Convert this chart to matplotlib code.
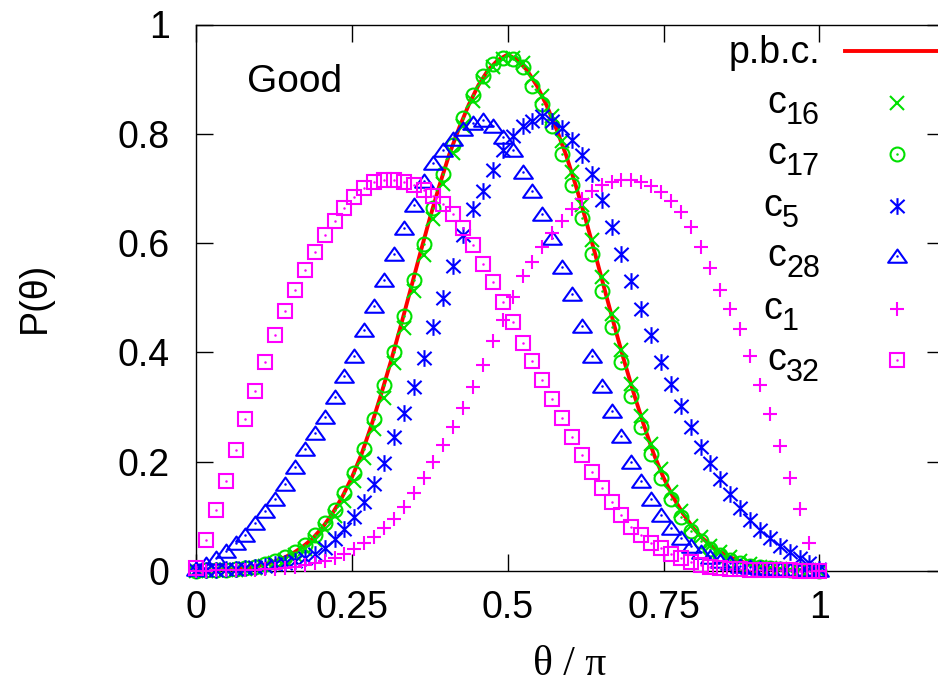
import matplotlib
matplotlib.use("Agg")
import matplotlib.pyplot as plt
import numpy as np
from matplotlib.lines import Line2D
from matplotlib.path import Path

plt.rcParams["font.family"] = ["Liberation Sans", "DejaVu Sans"]

# theta/pi grid of the lattice data (64 points) and of the p.b.c. curve (65 points)
theta = np.arange(64) / 63
theta_pbc = np.arange(65) / 64

p_pbc = [0.000, 0.001, 0.001, 0.002, 0.003, 0.005, 0.008, 0.012, 0.017, 0.024,
         0.033, 0.045, 0.060, 0.080, 0.105, 0.135, 0.171, 0.214, 0.266, 0.323,
         0.383, 0.447, 0.513, 0.580, 0.645, 0.706, 0.762, 0.810, 0.853, 0.889,
         0.917, 0.935, 0.945, 0.935, 0.916, 0.888, 0.852, 0.809, 0.761, 0.705,
         0.644, 0.579, 0.512, 0.446, 0.382, 0.322, 0.266, 0.214, 0.171, 0.135,
         0.105, 0.080, 0.060, 0.045, 0.033, 0.024, 0.017, 0.012, 0.008, 0.005,
         0.003, 0.002, 0.001, 0.001, 0.000]

p_c16 = [0.000, 0.000, 0.001, 0.001, 0.002, 0.004, 0.006, 0.010, 0.015, 0.021,
         0.030, 0.041, 0.057, 0.077, 0.100, 0.129, 0.164, 0.207, 0.259, 0.317,
         0.380, 0.445, 0.512, 0.578, 0.645, 0.708, 0.765, 0.815, 0.860, 0.896,
         0.922, 0.937, 0.939, 0.930, 0.902, 0.870, 0.833, 0.786, 0.730, 0.670,
         0.605, 0.538, 0.470, 0.405, 0.342, 0.284, 0.232, 0.186, 0.145, 0.110,
         0.083, 0.062, 0.046, 0.034, 0.025, 0.018, 0.012, 0.008, 0.006, 0.004,
         0.002, 0.001, 0.001, 0.000]

p_c17 = [0.000, 0.001, 0.001, 0.002, 0.003, 0.005, 0.008, 0.012, 0.018, 0.025,
         0.035, 0.048, 0.066, 0.087, 0.112, 0.142, 0.179, 0.224, 0.278, 0.340,
         0.400, 0.467, 0.532, 0.598, 0.665, 0.727, 0.780, 0.829, 0.871, 0.905,
         0.928, 0.938, 0.936, 0.922, 0.887, 0.854, 0.814, 0.763, 0.706, 0.646,
         0.580, 0.512, 0.446, 0.382, 0.320, 0.264, 0.214, 0.171, 0.131, 0.098,
         0.074, 0.055, 0.040, 0.029, 0.021, 0.015, 0.010, 0.007, 0.005, 0.003,
         0.002, 0.001, 0.001, 0.000]

p_c5 = [0.001, 0.002, 0.002, 0.003, 0.004, 0.005, 0.007, 0.009, 0.012, 0.015,
        0.019, 0.024, 0.031, 0.043, 0.058, 0.076, 0.098, 0.127, 0.160, 0.198,
        0.245, 0.289, 0.337, 0.390, 0.447, 0.500, 0.559, 0.615, 0.663, 0.696,
        0.733, 0.770, 0.796, 0.814, 0.824, 0.833, 0.823, 0.810, 0.789, 0.762,
        0.726, 0.678, 0.630, 0.580, 0.530, 0.480, 0.432, 0.383, 0.342, 0.302,
        0.264, 0.227, 0.197, 0.168, 0.141, 0.115, 0.093, 0.075, 0.060, 0.046,
        0.034, 0.023, 0.014, 0.004]

p_c28 = [0.004, 0.012, 0.023, 0.037, 0.051, 0.066, 0.087, 0.109, 0.131, 0.160,
         0.191, 0.223, 0.252, 0.282, 0.318, 0.356, 0.394, 0.441, 0.485, 0.533,
         0.580, 0.627, 0.670, 0.714, 0.747, 0.770, 0.790, 0.808, 0.819, 0.825,
         0.814, 0.795, 0.770, 0.731, 0.696, 0.654, 0.609, 0.556, 0.506, 0.448,
         0.393, 0.339, 0.293, 0.247, 0.200, 0.164, 0.131, 0.102, 0.078, 0.060,
         0.045, 0.034, 0.026, 0.019, 0.014, 0.010, 0.007, 0.005, 0.004, 0.003,
         0.002, 0.001, 0.001, 0.001]

p_c1 = [0.000, 0.000, 0.001, 0.001, 0.001, 0.002, 0.002, 0.003, 0.004, 0.005,
        0.008, 0.011, 0.015, 0.019, 0.024, 0.031, 0.040, 0.051, 0.063, 0.079,
        0.096, 0.118, 0.142, 0.170, 0.200, 0.231, 0.264, 0.298, 0.336, 0.377,
        0.420, 0.460, 0.502, 0.539, 0.566, 0.593, 0.618, 0.641, 0.662, 0.681,
        0.695, 0.706, 0.712, 0.715, 0.715, 0.711, 0.704, 0.694, 0.677, 0.656,
        0.630, 0.593, 0.554, 0.515, 0.480, 0.442, 0.393, 0.340, 0.287, 0.229,
        0.171, 0.113, 0.052, 0.000]

p_c32 = [0.006, 0.057, 0.112, 0.165, 0.221, 0.278, 0.330, 0.383, 0.431, 0.475,
         0.514, 0.551, 0.584, 0.614, 0.641, 0.665, 0.685, 0.700, 0.711, 0.715,
         0.715, 0.712, 0.706, 0.697, 0.686, 0.672, 0.654, 0.628, 0.597, 0.562,
         0.528, 0.493, 0.456, 0.418, 0.384, 0.350, 0.314, 0.280, 0.246, 0.212,
         0.181, 0.152, 0.127, 0.102, 0.081, 0.066, 0.052, 0.042, 0.032, 0.023,
         0.017, 0.011, 0.008, 0.006, 0.004, 0.003, 0.002, 0.002, 0.001, 0.001,
         0.001, 0.000, 0.000, 0.000]

x_ticks = [0, 0.25, 0.5, 0.75, 1]
x_ticklabels = ["0", "0.25", "0.5", "0.75", "1"]
y_ticks = [0, 0.2, 0.4, 0.6, 0.8, 1]
y_ticklabels = ["0", "0.2", "0.4", "0.6", "0.8", "1"]

RED, GREEN, BLUE, MAGENTA = "#ff0000", "#00e000", "#0000ff", "#ff00ff"

# gnuplot-like point shapes
asterisk = Path([(0, -1), (0, 1), (-0.85, -0.8), (0.85, 0.8), (-0.85, 0.8), (0.85, -0.8)],
                [Path.MOVETO, Path.LINETO] * 3)
triangle = Path([(0, 1.0), (-1.35, -0.9), (1.35, -0.9), (0, 1.0)],
                [Path.MOVETO, Path.LINETO, Path.LINETO, Path.CLOSEPOLY])

# (subscript, values, colour, marker, size, dot in the middle)
series = [
    ("16", p_c16, GREEN, "x", 9.5, False),
    ("17", p_c17, GREEN, "o", 10, True),
    ("5", p_c5, BLUE, asterisk, 12, False),
    ("28", p_c28, BLUE, triangle, 13.5, True),
    ("1", p_c1, MAGENTA, "+", 10, False),
    ("32", p_c32, MAGENTA, "s", 9.5, True),
]

W, H = 938, 686


def fx(px):
    return px / W


def fy(py):
    return 1 - py / H


fig = plt.figure(figsize=(W / 100, H / 100), dpi=100)
ax = fig.add_axes([fx(196), fy(571), (944 - 196) / W, (571 - 24.5) / H])

ax.plot(theta_pbc, p_pbc, color=RED, lw=2.8, zorder=2)

for sub, vals, color, marker, ms, dotted in series:
    ax.plot(theta, vals, ls="none", marker=marker, ms=ms, mfc="none", mec=color,
            mew=1.5, clip_on=False, zorder=3)
    if dotted:
        ax.plot(theta, vals, ls="none", marker="o", ms=1.8, mfc=color, mec=color,
                mew=0, clip_on=False, zorder=3)

ax.set_xlim(0, 1.2)
ax.set_ylim(0, 1)
ax.set_xticks(x_ticks)
ax.set_xticklabels(x_ticklabels)
ax.set_yticks(y_ticks)
ax.set_yticklabels(y_ticklabels)
ax.tick_params(direction="in", top=True, right=True, length=12, width=1, labelsize=27)
ax.tick_params(axis="x", pad=14)
ax.tick_params(axis="y", pad=19)
for sp in ax.spines.values():
    sp.set_linewidth(1.0)

fig.text(fx(570), fy(675), "θ / π", ha="center", va="baseline", fontsize=30,
         family=["Liberation Serif", "DejaVu Serif"])
fig.text(fx(35), fy(297), "P(θ)", rotation=90, ha="center", va="center", fontsize=27)
fig.text(fx(247), fy(92.5), "Good", ha="left", va="baseline", fontsize=28)

# key, drawn gnuplot style: label on the left, sample on the right
fig.text(fx(820), fy(63), "p.b.c.", ha="right", va="baseline", fontsize=27)
fig.add_artist(Line2D([fx(845), fx(990)], [fy(51), fy(51)], color=RED, lw=2.8,
                      transform=fig.transFigure))
key_y = [103, 154, 206, 256, 309, 360]
for (sub, vals, color, marker, ms, dotted), ky in zip(series, key_y):
    left = 767 if len(sub) == 2 else 763
    fig.text(fx(left), fy(ky + 10), "c", ha="left", va="baseline", fontsize=27)
    fig.text(fx(left + 19), fy(ky + 21), sub, ha="left", va="baseline", fontsize=22)
    fig.add_artist(Line2D([fx(897)], [fy(ky)], ls="none", marker=marker, ms=ms,
                          mfc="none", mec=color, mew=1.5, transform=fig.transFigure))
    if dotted:
        fig.add_artist(Line2D([fx(897)], [fy(ky)], ls="none", marker="o", ms=1.8,
                              mfc=color, mec=color, mew=0, transform=fig.transFigure))

fig.savefig("out.png", dpi=100)
